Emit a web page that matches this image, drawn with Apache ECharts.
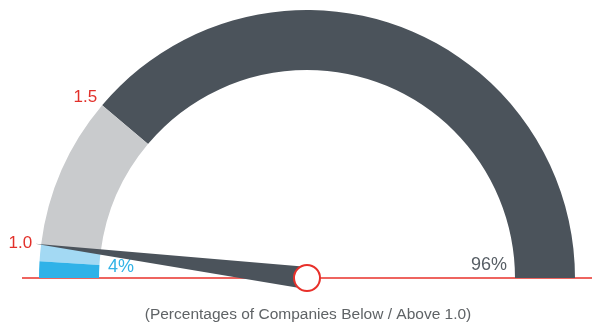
<!DOCTYPE html>
<html>
<head>
<meta charset="utf-8">
<script src="https://cdn.jsdelivr.net/npm/echarts@6/dist/echarts.min.js"></script>
<style>
  html, body { margin: 0; padding: 0; background: #fff; }
  #main { width: 592px; height: 327px; }
</style>
</head>
<body>
<div id="main"></div>
<script>
// data
const shares = [4, 96]; // below / above 1.0, percent
const shareLabels = ["4%", "96%"];
const bandEnds = [2, 4, 22.3, 100]; // where each colour band stops on the 0-100 scale
const bandColors = ["#2fb2e8", "#a3d9f3", "#c9cbcd", "#4b535b"];
const thresholdValues = [4, 22.3];
const thresholdLabels = ["1.0", "1.5"];
const caption = "(Percentages of Companies Below / Above 1.0)";

const cx = 307, cy = 278, R = 268, bandWidth = 60;
const font = "'Liberation Sans', Arial, sans-serif";

// value (0-100) -> point at radius r on the half circle
function gaugePoint(v, r) {
  let a = Math.PI - (v / 100) * Math.PI;
  return [cx + r * Math.cos(a), cy - r * Math.sin(a)];
}

let chart = echarts.init(document.getElementById("main"));

let texts = thresholdValues.map((v, i) => {
  let p = gaugePoint(v, R + 9);
  return {
    type: "text",
    x: p[0] + 2 * i, y: p[1] - 2 * i,
    style: {
      text: thresholdLabels[i],
      fill: "#e2302a",
      font: "17px " + font,
      align: "right",
      verticalAlign: "middle",
    },
  };
});

texts.push({
  type: "text",
  x: cx - R + bandWidth + 9, y: cy - 11,
  style: { text: shareLabels[0], fill: "#33b3e6", font: "18px " + font, align: "left", verticalAlign: "middle" },
});
texts.push({
  type: "text",
  x: cx + R - bandWidth - 8, y: cy - 13,
  style: { text: shareLabels[1], fill: "#575e65", font: "18px " + font, align: "right", verticalAlign: "middle" },
});
texts.push({
  type: "text",
  x: cx + 1, y: 315,
  style: { text: caption, fill: "#5f6366", font: "15.5px " + font, align: "center", verticalAlign: "middle" },
});

let option = {
  animation: false,
  graphic: [
    {
      type: "line",
      shape: { x1: 22, y1: cy, x2: 592, y2: cy },
      style: { stroke: "#e8302a", lineWidth: 1.5 },
      z: 0,
    },
  ].concat(texts),
  series: [
    {
      type: "gauge",
      center: [cx, cy],
      radius: R,
      startAngle: 180,
      endAngle: 0,
      min: 0,
      max: 100,
      z: 2,
      axisLine: {
        lineStyle: {
          width: bandWidth,
          color: bandEnds.map((e, i) => [e / 100, bandColors[i]]),
        },
      },
      axisTick: { show: false },
      splitLine: { show: false },
      axisLabel: { show: false },
      pointer: {
        icon: "triangle",
        length: R + 6,
        width: 22,
        itemStyle: { color: "#4b535b" },
      },
      anchor: {
        show: true,
        showAbove: true,
        size: 26,
        itemStyle: { color: "#fff", borderColor: "#e8302a", borderWidth: 2 },
      },
      title: { show: false },
      detail: { show: false },
      data: [{ value: shares[0], name: "below" }],
    },
  ],
};

chart.setOption(option);
</script>
</body>
</html>
